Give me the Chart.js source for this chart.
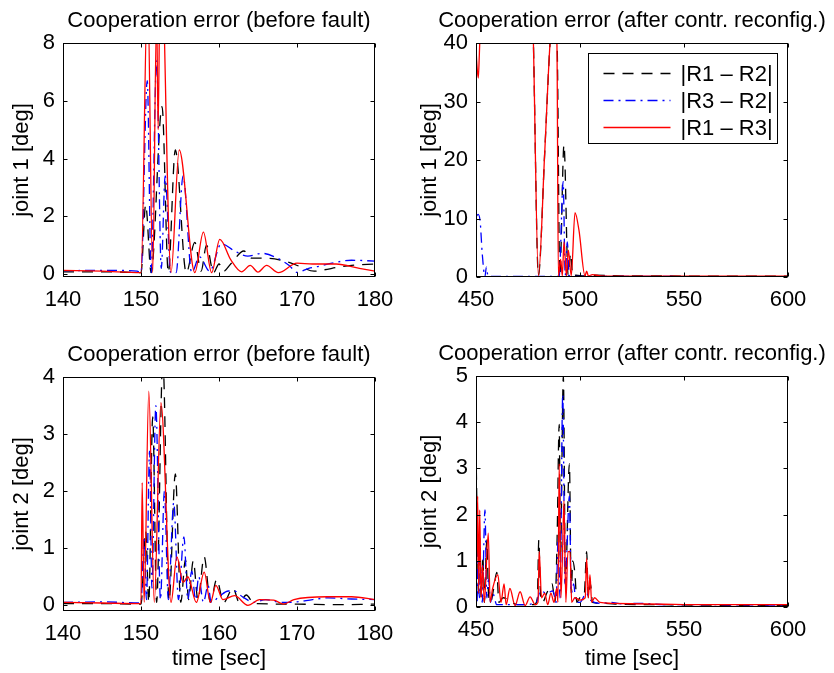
<!DOCTYPE html>
<html>
<head>
<meta charset="utf-8">
<script src="https://cdn.jsdelivr.net/npm/chart.js@4.4.0/dist/chart.umd.min.js"></script>
<style>
  body { margin: 0; background: #fff; }
  #fig { position: relative; width: 834px; height: 673px; }
  #fig canvas { position: absolute; }
</style>
</head>
<body>
<div id="fig">
  <canvas id="tl" width="417" height="336" style="left:0;top:0"></canvas>
  <canvas id="tr" width="417" height="336" style="left:417px;top:0"></canvas>
  <canvas id="bl" width="417" height="337" style="left:0;top:336px"></canvas>
  <canvas id="br" width="417" height="337" style="left:417px;top:336px"></canvas>
</div>
<script>
const FONT = '"Liberation Sans", Arial, Helvetica, sans-serif';

// legend labels
const seriesLabels = ['|R1 \u2013 R2|', '|R3 \u2013 R2|', '|R1 \u2013 R3|'];

// tick labels
const ticksBefore = [140, 150, 160, 170, 180];
const ticksAfter = [450, 500, 550, 600];
const ticksJ1Before = [0, 2, 4, 6, 8];
const ticksJ1After = [0, 10, 20, 30, 40];
const ticksJ2Before = [0, 1, 2, 3, 4];
const ticksJ2After = [0, 1, 2, 3, 4, 5];

// joint 1, before fault  [time, deg]
const j1BeforeR1R2 = [[140,0.08],[146,0.08],[150,0.05],[150.6,2.4],[151.3,0.05],[152.7,5.8],[153.5,0.05],
  [154.4,4.3],[155.8,0.05],[156.9,1.1],[157.7,0.1],[158.4,1.0],[159.3,0.05],[160.0,0.35],[160.6,0.1],
  [161.5,0.35],[163.2,0.8],[164.2,0.55],[166,0.55],[168.7,0.43],[170.5,0.25],[172.2,0.1],[173.5,0.15],
  [175.3,0.24],[177,0.3],[180,0.35]];
const j1BeforeR3R2 = [[140,0.12],[146,0.13],[149.5,0.1],[150,0.05],[150.8,6.7],[151.3,0.05],[152.0,7.4],
  [152.6,0.2],[153.1,3.4],[153.8,0.05],[154.5,0.05],[155.4,3.4],[156.5,0.05],[157.5,0.6],[158.8,0.1],
  [160.3,1.05],[162,0.8],[163.7,0.62],[165.5,0.72],[167.5,0.55],[169,0.3],[170,0.06],[171.5,0.2],
  [173,0.28],[174.5,0.38],[177,0.48],[180,0.45]];
const j1BeforeR1R3 = [[140,0.13],[145,0.1],[150,0.05],[150.85,10],[151.5,0.05],[152.0,9],[152.2,5],
  [152.5,12],[153.85,0.05],[154.9,4.3],[156.9,0.05],[158.0,1.45],[159.05,0.05],[160.1,1.2],[161.5,0.5],
  [162.9,0.08],[164.0,0.3],[165.0,0.07],[166.1,0.3],[167.6,0.05],[170,0.38],[172,0.35],[175,0.35],
  [178,0.2],[180,0.1]];

// joint 1, after reconfiguration
const j1AfterR1R2 = [[450,48],[452,60],[460,90],[470,80],[476.5,55],[477.6,40],[480,0.3],[483,21],
  [485.6,40],[487.2,47],[489,40],[490.3,0.3],[492.3,22.6],[494.3,0.3],[495.5,4],[496.5,0.2],[498,0.3],
  [502,0.2],[505,0.3],[520,0.2],[600,0.15]];
const j1AfterR3R2 = [[450,10.3],[451,10.7],[452,9.5],[453,4],[454.3,0.1],[455,1.7],[455.8,0.1],[460,0.1],
  [480,0.1],[490,0.1],[491.9,16.3],[492.9,0.3],[493.9,6],[494.8,0.2],[500,0.1],[600,0.05]];
const j1AfterR1R3 = [[450,39],[450.6,35.5],[451.1,34],[451.6,38],[452.3,45],[460,90],[470,85],[476.5,55],
  [477.6,40],[480,0.2],[483,21],[485.6,40],[487.2,46],[488.9,40],[489.6,0.2],[490.7,3],[491.5,0.2],
  [492.3,6.0],[493.5,0.2],[494.4,4.6],[495.8,0.2],[497.6,11.0],[499.5,8],[502.4,0.2],[503.2,1.0],
  [504.0,0.2],[506,0.4],[510,0.2],[520,0.15],[600,0.15]];

// joint 2, before fault
const j2BeforeR1R2 = [[140,0.03],[145,0.03],[150,0.02],[150.6,1.3],[151.0,0.05],[151.5,3.3],[152.0,0.05],
  [152.8,4.3],[153.6,0.08],[154.4,2.3],[155.1,0.05],[155.7,0.8],[156.1,0.1],[156.7,0.78],[157.3,0.1],
  [158.1,0.85],[158.9,0.05],[159.7,0.45],[160.6,0.05],[161.8,0.3],[162.6,0.05],[163.5,0.18],[164.5,0.03],
  [170,0.02],[175,0.01],[180,0.02]];
const j2BeforeR3R2 = [[140,0.05],[145,0.06],[150,0.04],[150.4,1.2],[150.7,0.1],[151.1,2.7],[151.4,0.3],
  [151.9,3.5],[152.5,0.1],[153.0,2.0],[153.5,0.1],[154.2,1.8],[154.8,0.1],[155.5,1.2],[156.0,0.1],
  [156.5,0.6],[157.0,0.1],[157.4,0.5],[158.0,0.05],[158.6,0.35],[159.0,0.05],[160.0,0.15],[161.2,0.25],
  [162.0,0.25],[163.0,0.15],[164.5,0.05],[166,0.1],[168,0.05],[170,0.06],[172,0.1],[174,0.13],
  [177,0.11],[180,0.1]];
const j2BeforeR1R3 = [[140,0.05],[145,0.04],[150,0.03],[150.15,2.15],[150.4,0.05],[151.0,3.75],[151.7,0.05],
  [152.55,3.55],[153.85,0.05],[154.6,0.85],[155.4,0.4],[156.0,0.5],[157.1,0.05],[158.1,0.58],[158.9,0.05],
  [159.6,0.35],[160.5,0.1],[162.0,0.17],[163.7,0.0],[165.2,0.1],[167,0.09],[168.3,0.02],[169.6,0.1],
  [173.9,0.15],[177,0.15],[180,0.1]];

// joint 2, after reconfiguration
const j2AfterR1R2 = [[450,3.4],[450.7,1.5],[451.2,0.3],[451.8,1.5],[452.5,0.2],[453.3,1.1],[454,0.1],
  [455.2,1.45],[456,0.3],[457,0.1],[458.5,0.4],[460,0.75],[461,0.1],[463,0.2],[470,0.05],[478,0.05],
  [479.5,0.2],[480.2,1.45],[481,0.3],[482,0.1],[484,0.3],[486.6,0.5],[488,0.1],[489,1.5],[490,3.95],
  [490.6,1.0],[492.0,5.0],[493,0.5],[494.9,3.1],[495.8,0.3],[496.5,1.0],[497.6,0.7],[498.5,0.1],
  [500,0.2],[502,0.25],[503.2,1.2],[504,0.2],[505,0.5],[506,0.1],[510,0.08],[520,0.06],[540,0.05],
  [560,0.04],[600,0.03]];
const j2AfterR3R2 = [[450,1.5],[450.5,0.1],[451.0,1.2],[451.6,0.2],[452.3,0.8],[453.0,0.1],[454.3,2.1],
  [455.2,0.2],[456,0.6],[457,0.1],[458,0.3],[460,0.05],[472,0.05],[479,0.1],[481,0.35],[484,0.3],
  [487,0.35],[488.5,0.1],[489.5,1.5],[490.4,0.2],[491.7,4.6],[492.8,0.5],[493.5,1.0],[494.9,2.4],
  [495.8,0.3],[497,0.5],[498,0.1],[500,0.1],[503,0.3],[505,0.15],[510,0.08],[515,0.1],[520,0.07],
  [530,0.08],[540,0.05],[560,0.05],[600,0.04]];
const j2AfterR1R3 = [[450,3.0],[450.4,1.0],[450.8,2.4],[451.3,0.3],[451.8,2.1],[452.4,0.2],[453.2,0.9],
  [454,0.1],[455.9,1.6],[456.8,0.1],[458,0.4],[460.5,0.7],[462,0.1],[463.5,0.5],[464.5,0.05],[466.3,0.4],
  [468.8,0.03],[471.2,0.33],[473.6,0.03],[476,0.22],[478.5,0.05],[479.8,0.1],[480.4,1.2],[481.5,0.2],
  [483,0.3],[484.5,0.05],[486,0.3],[487.5,0.1],[488.8,0.4],[489.4,0.1],[490.0,3.1],[490.8,0.2],
  [491.5,1.0],[492.3,2.3],[493.2,0.1],[494.2,1.2],[495.2,1.2],[496,0.1],[497.5,0.2],[500,0.15],
  [502.5,0.2],[503.2,1.05],[504,0.2],[504.8,0.7],[505.6,0.1],[507,0.2],[509.6,0.1],[515,0.08],
  [525,0.07],[540,0.06],[560,0.05],[580,0.05],[600,0.05]];

const toPoints = arr => arr.map(([x, y]) => ({x, y}));

function makeDatasets(r1r2, r3r2, r1r3) {
  return [
    {label: seriesLabels[0], data: toPoints(r1r2), borderColor: '#000000', borderDash: [11, 8], order: 3},
    {label: seriesLabels[1], data: toPoints(r3r2), borderColor: '#0000ff', borderDash: [10, 5, 2, 5], order: 2},
    {label: seriesLabels[2], data: toPoints(r1r3), borderColor: '#ff0000', borderDash: [], order: 1}
  ];
}

// MATLAB-like box, inward ticks, title and (optionally) legend
const matlabAxes = {
  id: 'matlabAxes',
  afterDatasetsDraw(chart, args, opts) {
    const {ctx, chartArea: a, scales: {x, y}} = chart;
    const L = Math.round(a.left) + 0.5, R = Math.round(a.right) - 0.5;
    const T = Math.round(a.top) + 0.5, B = Math.round(a.bottom) - 0.5;
    ctx.save();
    ctx.strokeStyle = '#000';
    ctx.lineWidth = 1;
    ctx.setLineDash([]);
    ctx.beginPath();
    x.ticks.forEach(t => {
      const px = Math.round(x.getPixelForValue(t.value)) + 0.5;
      ctx.moveTo(px, B); ctx.lineTo(px, B - 4);
      ctx.moveTo(px, T); ctx.lineTo(px, T + 4);
    });
    y.ticks.forEach(t => {
      const py = Math.round(y.getPixelForValue(t.value)) + 0.5;
      ctx.moveTo(L, py); ctx.lineTo(L + 4, py);
      ctx.moveTo(R, py); ctx.lineTo(R - 4, py);
    });
    ctx.stroke();
    ctx.strokeRect(L, T, R - L, B - T);

    ctx.fillStyle = '#000';
    ctx.font = '22px ' + FONT;
    ctx.textAlign = 'center';
    ctx.textBaseline = 'alphabetic';
    ctx.fillText(opts.title, (a.left + a.right) / 2, a.top - 16);

    if (opts.legend) {
      const bw = 189, bh = 90;
      const bx = Math.round(a.right - 11 - bw) + 0.5, by = Math.round(a.top + 10) + 0.5;
      ctx.fillStyle = '#fff';
      ctx.fillRect(bx, by, bw, bh);
      ctx.strokeStyle = '#000';
      ctx.strokeRect(bx, by, bw, bh);
      ctx.textAlign = 'left';
      ctx.textBaseline = 'middle';
      chart.data.datasets.forEach((ds, i) => {
        const ly = by + 20 + i * 27;
        ctx.strokeStyle = ds.borderColor;
        ctx.lineWidth = 1.3;
        ctx.setLineDash(ds.borderDash);
        ctx.beginPath();
        ctx.moveTo(bx + 15, ly); ctx.lineTo(bx + 82, ly);
        ctx.stroke();
        ctx.fillStyle = '#000';
        ctx.fillText(ds.label, bx + 92, ly + 1);
      });
    }
    ctx.restore();
  }
};

function makeChart(id, cfg) {
  const canvas = document.getElementById(id);
  const W = canvas.width, H = canvas.height;
  const font = {family: FONT, size: 22};
  new Chart(canvas, {
    type: 'line',
    data: {datasets: makeDatasets(...cfg.series)},
    options: {
      responsive: false,
      animation: false,
      devicePixelRatio: 1,
      layout: {padding: {top: cfg.area.top, right: W - cfg.area.right, left: 0, bottom: 0}},
      elements: {
        line: {borderWidth: 1.3, cubicInterpolationMode: 'monotone', fill: false},
        point: {radius: 0}
      },
      plugins: {
        legend: {display: false},
        tooltip: {enabled: false},
        matlabAxes: {title: cfg.title, legend: cfg.legend}
      },
      scales: {
        x: {
          type: 'linear',
          min: cfg.xTicks[0],
          max: cfg.xTicks[cfg.xTicks.length - 1],
          afterBuildTicks: s => { s.ticks = cfg.xTicks.map(v => ({value: v})); },
          afterFit: s => { s.height = H - cfg.area.bottom; },
          grid: {display: false, drawTicks: false},
          border: {display: false},
          ticks: {font, color: '#000', padding: 10, maxRotation: 0, callback: v => String(v)},
          title: {display: !!cfg.xTitle, text: cfg.xTitle || '', font, color: '#000', padding: {top: 0, bottom: 1}}
        },
        y: {
          type: 'linear',
          min: cfg.yMin,
          max: cfg.yTicks[cfg.yTicks.length - 1],
          afterBuildTicks: s => { s.ticks = cfg.yTicks.map(v => ({value: v})); },
          afterFit: s => { s.width = cfg.area.left; },
          grid: {display: false, drawTicks: false},
          border: {display: false},
          ticks: {font, color: '#000', padding: 8, callback: v => String(v)},
          title: {display: true, text: cfg.yTitle, font, color: '#000', padding: {top: cfg.yTitlePad, bottom: 0}}
        }
      }
    },
    plugins: [matlabAxes]
  });
}

makeChart('tl', {
  series: [j1BeforeR1R2, j1BeforeR3R2, j1BeforeR1R3],
  title: 'Cooperation error (before fault)',
  xTicks: ticksBefore, yTicks: ticksJ1Before, yMin: -0.1,
  yTitle: 'joint 1 [deg]', yTitlePad: 9,
  area: {left: 63, right: 375, top: 43, bottom: 277}
});
makeChart('tr', {
  series: [j1AfterR1R2, j1AfterR3R2, j1AfterR1R3],
  title: 'Cooperation error (after contr. reconfig.)',
  xTicks: ticksAfter, yTicks: ticksJ1After, yMin: 0,
  yTitle: 'joint 1 [deg]', yTitlePad: 0, legend: true,
  area: {left: 59, right: 371, top: 43, bottom: 277}
});
makeChart('bl', {
  series: [j2BeforeR1R2, j2BeforeR3R2, j2BeforeR1R3],
  title: 'Cooperation error (before fault)',
  xTicks: ticksBefore, yTicks: ticksJ2Before, yMin: -0.1,
  yTitle: 'joint 2 [deg]', yTitlePad: 9, xTitle: 'time [sec]',
  area: {left: 63, right: 375, top: 41, bottom: 275}
});
makeChart('br', {
  series: [j2AfterR1R2, j2AfterR3R2, j2AfterR1R3],
  title: 'Cooperation error (after contr. reconfig.)',
  xTicks: ticksAfter, yTicks: ticksJ2After, yMin: 0,
  yTitle: 'joint 2 [deg]', yTitlePad: 0, xTitle: 'time [sec]',
  area: {left: 59, right: 371, top: 40, bottom: 271}
});
</script>
</body>
</html>
